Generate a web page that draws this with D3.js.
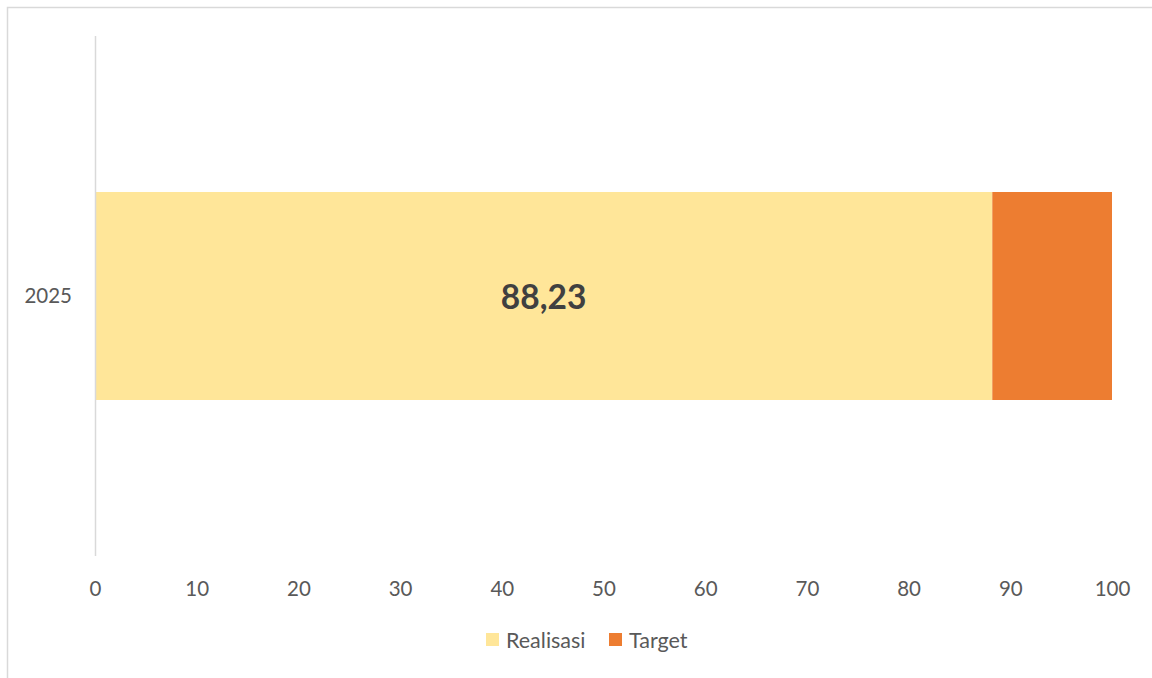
<!DOCTYPE html>
<html><head><meta charset="utf-8">
<script src="https://cdn.jsdelivr.net/npm/d3@7"></script>
<style>body{margin:0;background:#fff}svg{display:block}</style>
</head><body>
<svg id="c" width="1152" height="678"></svg>
<script>
const categories = ["2025"];
const realisasi = [88.23];
const target = [100 - 88.23];
const seriesNames = ["Realisasi", "Target"];
const colors = ["#FFE699", "#ED7D31"];
const xTicks = [0,10,20,30,40,50,60,70,80,90,100];
const labels = ["88,23"];

const svg = d3.select("#c");
const font = "Lato, 'Open Sans', sans-serif";
svg.append("rect").attr("x",7.5).attr("y",7.5).attr("width",1160).attr("height",690)
  .attr("fill","#fff").attr("stroke","#d9d9d9").attr("stroke-width",1.5);

const x = d3.scaleLinear().domain([0,100]).range([95,1112]);
const y = d3.scaleBand().domain(categories).range([36,556]).paddingInner(0.6).paddingOuter(0.3);

const rows = categories.map((c,i)=>({cat:c, Realisasi:realisasi[i], Target:target[i]}));
const stack = d3.stack().keys(seriesNames)(rows);

stack.forEach((s,si)=>{
  svg.append("g").selectAll("rect").data(s).join("rect")
    .attr("x",d=>x(d[0])).attr("width",d=>x(d[1])-x(d[0]))
    .attr("y",d=>y(d.data.cat)).attr("height",y.bandwidth())
    .attr("fill",colors[si]);
});

// axis line
svg.append("line").attr("x1",95.5).attr("x2",95.5).attr("y1",36).attr("y2",556)
  .attr("stroke","#d9d9d9").attr("stroke-width",1.5);

// x tick labels
const xa = svg.append("g").attr("transform","translate(0,582)")
  .call(d3.axisBottom(x).tickValues(xTicks).tickSize(0).tickPadding(0));
xa.select(".domain").remove();
xa.selectAll("text").attr("fill","#595959").attr("font-size","20.5px").attr("font-family",font).attr("dy","0.7em");

// y labels
const ya = svg.append("g").attr("transform","translate(72,0)")
  .call(d3.axisLeft(y).tickSize(0).tickPadding(0));
ya.select(".domain").remove();
ya.selectAll("text").attr("fill","#595959").attr("font-size","20.5px").attr("font-family",font);

// data label
svg.append("g").selectAll("text").data(stack[0]).join("text")
  .attr("x",d=>(x(d[0])+x(d[1]))/2).attr("y",d=>y(d.data.cat)+y.bandwidth()/2)
  .attr("text-anchor","middle").attr("dominant-baseline","central")
  .attr("font-size","33.5px").attr("font-weight","bold").attr("font-family",font).attr("fill","#404040")
  .text((d,i)=>labels[i]);

// legend
const lg = svg.append("g");
const lx = [486, 609];
seriesNames.forEach((n,i)=>{
  lg.append("rect").attr("x",lx[i]).attr("y",633).attr("width",13).attr("height",13).attr("fill",colors[i]);
  lg.append("text").attr("x",lx[i]+20).attr("y",640).attr("dominant-baseline","central")
    .attr("font-size","21.5px").attr("font-family",font).attr("fill","#595959").text(n);
});
</script>
</body></html>
